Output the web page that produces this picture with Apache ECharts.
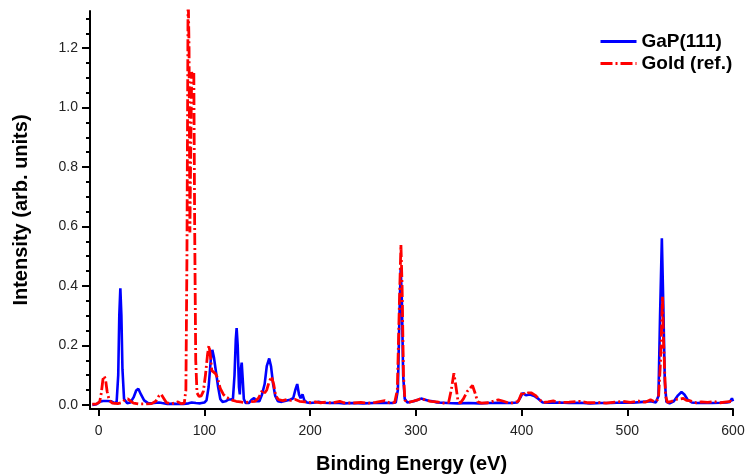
<!DOCTYPE html>
<html>
<head>
<meta charset="utf-8">
<script src="https://cdn.jsdelivr.net/npm/echarts@6/dist/echarts.min.js"></script>
<style>
    html, body { margin: 0; padding: 0; background: #fff; }
    #chart { width: 745px; height: 475px; }
</style>
</head>
<body>
<div id="chart"></div>
<script>
// GaP(111) spectrum
const gapEnergy = [
    -6, -2, 1, 4, 8, 12, 15, 17, 18.5, 19.5, 20.5, 21.5, 22.5, 24, 27, 30, 33, 35.5, 37.5, 40,
    43, 47, 52, 57, 60, 65, 70, 75, 80, 85, 88, 92, 96, 100, 102, 104, 106, 107.5, 109, 111,
    113, 115, 117, 120, 123, 125, 127, 128.5, 129.7, 130.5, 131.5, 132.7, 133.5, 134.5, 135.3, 136.2, 137.3, 139, 142, 145,
    147, 149, 152, 154.5, 157, 159, 161.3, 163, 165, 167, 169.5, 173, 177, 181, 184, 186, 187.8, 189.5, 191, 192.8,
    194.5, 197, 200, 205, 208, 212, 218, 225, 232, 240, 250, 260, 270, 278, 281, 283, 284.5, 285.7, 286.8, 288,
    289.5, 292, 298, 302, 305, 308, 312, 316, 320, 325, 330, 340, 350, 360, 370, 380, 390, 396, 399, 401,
    404, 408, 412, 416, 420, 426, 435, 445, 455, 465, 475, 485, 495, 505, 515, 522, 527, 529.5, 531, 532.7,
    534, 535.5, 537, 540, 544, 548, 551.3, 554, 557, 561, 566, 572, 580, 588, 594, 597, 599, 600,
];
const gapIntensity = [
    0.0, 0.002, 0.010, 0.013, 0.013, 0.012, 0.006, 0.010, 0.10, 0.30, 0.392, 0.30, 0.12, 0.02, 0.005, 0.008, 0.025, 0.048, 0.054, 0.035,
    0.015, 0.005, 0.006, 0.008, 0.006, 0.003, 0.004, 0.003, 0.003, 0.005, 0.008, 0.006, 0.005, 0.008, 0.015, 0.06, 0.15, 0.185, 0.16, 0.11,
    0.06, 0.02, 0.01, 0.012, 0.018, 0.018, 0.02, 0.10, 0.22, 0.258, 0.20, 0.06, 0.035, 0.12, 0.142, 0.09, 0.02, 0.006, 0.006, 0.018,
    0.023, 0.012, 0.012, 0.035, 0.07, 0.13, 0.156, 0.13, 0.07, 0.03, 0.012, 0.01, 0.014, 0.017, 0.022, 0.05, 0.07, 0.035, 0.022, 0.035,
    0.015, 0.008, 0.006, 0.008, 0.01, 0.007, 0.006, 0.007, 0.005, 0.006, 0.005, 0.006, 0.007, 0.006, 0.008, 0.05, 0.30, 0.46, 0.35, 0.10,
    0.02, 0.008, 0.012, 0.017, 0.021, 0.018, 0.014, 0.012, 0.008, 0.007, 0.006, 0.005, 0.006, 0.005, 0.006, 0.007, 0.006, 0.008, 0.025, 0.04,
    0.032, 0.035, 0.03, 0.02, 0.008, 0.007, 0.008, 0.006, 0.007, 0.005, 0.006, 0.006, 0.008, 0.007, 0.01, 0.012, 0.008, 0.03, 0.30, 0.56,
    0.35, 0.08, 0.01, 0.005, 0.012, 0.032, 0.043, 0.035, 0.018, 0.008, 0.006, 0.007, 0.006, 0.007, 0.008, 0.01, 0.022, 0.012,
];

// Gold reference spectrum
const goldEnergy = [
    -6, -2, 1, 2.5, 4, 5.2, 6.5, 8, 10, 13, 18, 22, 25, 27.5, 30, 33, 38, 44, 50, 54,
    57, 59, 61, 64, 68, 72, 75, 78, 81, 82.5, 83.5, 84.6, 85.5, 86.3, 87.2, 88, 89, 90, 90.8, 91.8,
    93, 95, 97, 99, 101, 103, 104.3, 105.5, 107, 108.5, 110.5, 112.5, 115, 118, 121, 124, 127, 130, 134, 138,
    143, 148, 151, 153, 155, 157, 159, 161, 163.5, 165.5, 167.5, 170, 174, 178, 182, 186, 190, 195, 200, 205,
    210, 215, 220, 228, 232, 240, 248, 255, 262, 270.8, 275, 280, 282.5, 284.5, 285.9, 287, 288.3, 289.7, 293, 298,
    302, 305.4, 309, 314, 320, 326, 331, 333.5, 336, 338, 340, 342, 345, 348.6, 351, 353.6, 356, 358.5, 362, 368,
    373, 378, 383, 388, 393, 397, 399, 401, 403, 406, 409.4, 413, 417, 420, 425, 430, 436, 445, 455, 463,
    472, 480, 488, 496, 503, 510, 517, 522, 526, 529.5, 531.5, 533.3, 534.2, 535, 536.2, 538, 542, 546, 550, 553,
    556, 560, 565, 570, 576, 582, 588, 594, 598, 600,
];
const goldIntensity = [
    0.002, 0.003, 0.01, 0.04, 0.085, 0.097, 0.085, 0.045, 0.015, 0.006, 0.004, 0.008, 0.017, 0.02, 0.013, 0.006, 0.003, 0.003, 0.004, 0.012,
    0.03, 0.036, 0.025, 0.008, 0.003, 0.006, 0.01, 0.004, 0.006, 0.05, 0.50, 1.40, 1.20, 0.58, 0.90, 1.12, 1.10, 1.12, 0.60, 0.15,
    0.04, 0.028, 0.03, 0.045, 0.10, 0.17, 0.20, 0.17, 0.115, 0.11, 0.105, 0.09, 0.055, 0.035, 0.025, 0.02, 0.015, 0.012, 0.01, 0.008,
    0.01, 0.012, 0.022, 0.035, 0.05, 0.04, 0.05, 0.075, 0.095, 0.07, 0.03, 0.018, 0.014, 0.018, 0.015, 0.018, 0.012, 0.01, 0.008, 0.01,
    0.007, 0.009, 0.006, 0.012, 0.007, 0.006, 0.008, 0.006, 0.008, 0.014, 0.007, 0.008, 0.05, 0.35, 0.538, 0.40, 0.10, 0.015, 0.008, 0.013,
    0.017, 0.022, 0.016, 0.012, 0.01, 0.006, 0.008, 0.05, 0.106, 0.06, 0.01, 0.006, 0.02, 0.045, 0.055, 0.065, 0.04, 0.01, 0.006, 0.007,
    0.012, 0.017, 0.012, 0.006, 0.007, 0.012, 0.03, 0.045, 0.035, 0.04, 0.04, 0.032, 0.018, 0.008, 0.01, 0.013, 0.008, 0.009, 0.012, 0.007,
    0.008, 0.006, 0.009, 0.012, 0.008, 0.013, 0.009, 0.017, 0.01, 0.02, 0.15, 0.364, 0.22, 0.15, 0.03, 0.008, 0.012, 0.018, 0.02, 0.022,
    0.015, 0.013, 0.007, 0.01, 0.008, 0.011, 0.007, 0.01, 0.012, 0.009,
];

const xTicks = [0, 100, 200, 300, 400, 500, 600];
const yMajorTicks = [0, 0.2, 0.4, 0.6, 0.8, 1.0, 1.2];
const yMinorTicks = [
    0.05, 0.1, 0.15, 0.25, 0.3, 0.35, 0.45, 0.5, 0.55, 0.65, 0.7, 0.75,
    0.85, 0.9, 0.95, 1.05, 1.1, 1.15, 1.25, 1.3,
];

const FONT = "'Liberation Sans', Arial, sans-serif";
const yMin = -0.014;
const yMax = 1.325;

const chart = echarts.init(document.getElementById("chart"));

chart.setOption({
    animation: false,
    backgroundColor: "#fff",
    grid: {
        left: 90,
        right: 12,
        top: 11,
        bottom: 66,
        containLabel: false,
        outerBoundsMode: "none",
    },
    legend: {
        orient: "vertical",
        left: 599,
        top: 32,
        padding: 0,
        itemGap: 3,
        itemWidth: 36,
        itemHeight: 12,
        itemStyle: { opacity: 0 }, // hide the dot, keep the line
        lineStyle: { width: 3 },
        textStyle: {
            fontFamily: FONT,
            fontSize: 19,
            fontWeight: "bold",
            color: "#000",
        },
        data: ["GaP(111)", "Gold (ref.)"],
    },
    xAxis: {
        type: "value",
        min: -8.2,
        max: 600,
        name: "Binding Energy (eV)",
        nameLocation: "middle",
        nameGap: 45,
        nameTextStyle: {
            fontFamily: FONT,
            fontSize: 20,
            fontWeight: "bold",
            color: "#000",
        },
        axisLine: { onZero: false, lineStyle: { color: "#000", width: 2 } },
        axisTick: {
            length: 7,
            lineStyle: { color: "#000", width: 2 },
            customValues: xTicks,
        },
        axisLabel: {
            customValues: xTicks,
            margin: 15,
            fontFamily: FONT,
            fontSize: 14,
            color: "#222",
        },
        splitLine: { show: false },
    },
    yAxis: [
        {
            type: "value",
            min: yMin,
            max: yMax,
            name: "Intensity (arb. units)",
            nameLocation: "middle",
            nameGap: 59,
            nameTextStyle: {
                fontFamily: FONT,
                fontSize: 20,
                fontWeight: "bold",
                color: "#000",
            },
            axisLine: { show: true, onZero: false, lineStyle: { color: "#000", width: 2 } },
            axisTick: {
                show: true,
                length: 8,
                lineStyle: { color: "#000", width: 2 },
                customValues: yMajorTicks,
            },
            axisLabel: {
                customValues: yMajorTicks,
                formatter: v => v.toFixed(1),
                margin: 12,
                fontFamily: FONT,
                fontSize: 14,
                color: "#222",
            },
            splitLine: { show: false },
        },
        {
            // minor ticks only
            type: "value",
            position: "left",
            min: yMin,
            max: yMax,
            axisLine: { show: false, onZero: false },
            axisTick: {
                show: true,
                length: 4,
                lineStyle: { color: "#000", width: 2 },
                customValues: yMinorTicks,
            },
            axisLabel: { show: false },
            splitLine: { show: false },
        },
    ],
    series: [
        {
            name: "GaP(111)",
            type: "line",
            yAxisIndex: 0,
            showSymbol: false,
            symbol: "none",
            lineStyle: { color: "#0000ff", width: 2.6 },
            itemStyle: { color: "#0000ff" },
            data: gapEnergy.map((e, i) => [e, gapIntensity[i]]),
        },
        {
            name: "Gold (ref.)",
            type: "line",
            yAxisIndex: 0,
            showSymbol: false,
            symbol: "none",
            lineStyle: { color: "#ff0000", width: 2.8, type: [12, 3, 2, 3] },
            itemStyle: { color: "#ff0000" },
            data: goldEnergy.map((e, i) => [e, goldIntensity[i]]),
        },
    ],
});
</script>
</body>
</html>
